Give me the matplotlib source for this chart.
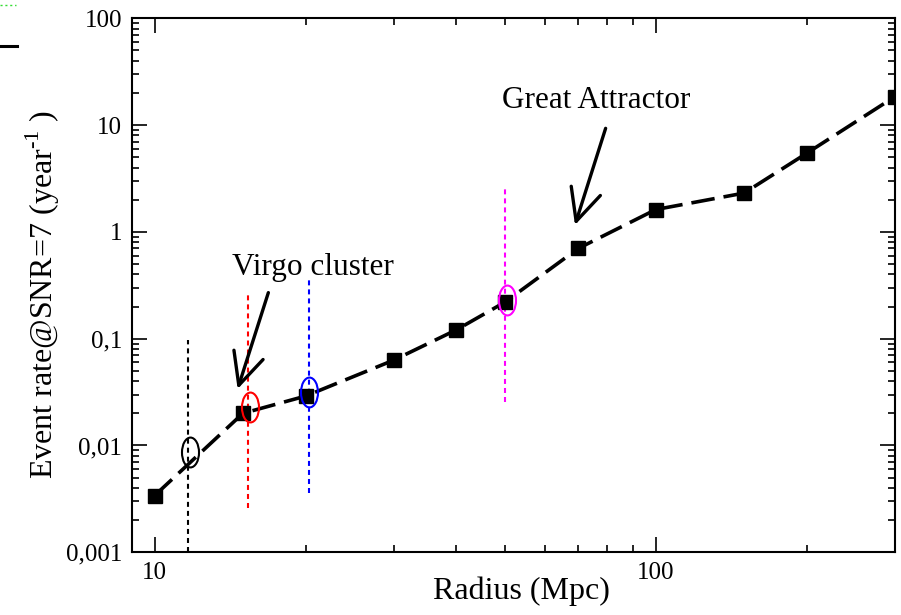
#!/usr/bin/env python3
"""Event rate vs radius, log-log, with Virgo / Great Attractor markers"""
import matplotlib
matplotlib.use("Agg")
import matplotlib.pyplot as plt
from matplotlib.path import Path
from matplotlib.lines import Line2D
import numpy as np

plt.rcParams['font.family'] = 'serif'
plt.rcParams['font.serif'] = ['Liberation Serif', 'DejaVu Serif']
plt.rcParams['mathtext.fontset'] = 'custom'
plt.rcParams['mathtext.rm'] = 'Liberation Serif'
plt.rcParams['lines.scale_dashes'] = False

# data
radius = [10, 15, 20, 30, 40, 50, 70, 100, 150, 200, 300]
rate = [0.0034, 0.020, 0.029, 0.063, 0.121, 0.22, 0.70, 1.62, 2.31, 5.45, 18.5]

# galaxy clusters: position of the open ellipse and the extent of the dashed bar
cluster_x = [11.65, 15.38, 20.3, 50.0]
cluster_ell_x = [11.74, 15.5, 20.36, 50.4]
cluster_y = [0.0087, 0.0231, 0.032, 0.23]
cluster_lo = [0.001, 0.0026, 0.0036, 0.0255]
cluster_hi = [0.097, 0.256, 0.36, 2.58]
cluster_colors = ['black', 'red', 'blue', 'magenta']

yticks = [0.001, 0.01, 0.1, 1, 10, 100]
ytick_labels = ['0,001', '0,01', '0,1', '1', '10', '100']
xticks = [10, 100]
xtick_labels = ['10', '100']

# annotations: (text, text pos, arrow tail, arrow tip)
notes = [
    ("Virgo cluster", (14.27, 0.395), (16.86, 0.27), (14.64, 0.0338)),
    ("Great Attractor", (49.25, 14.4), (79.4, 9.33), (68.97, 1.16)),
]

fig = plt.figure(figsize=(9.01, 6.15), dpi=100)
ax = fig.add_axes([0.1462, 0.1020, 0.8471, 0.8682])
ax.set_xscale('log')
ax.set_yscale('log')
ax.set_xlim(9, 300)
ax.set_ylim(0.001, 100)

# vertical dashed bars + ellipses
verts = Path.unit_circle().vertices * np.array([0.57, 1.0])
ellipse = Path(verts, Path.unit_circle().codes)
for x, xe, y, lo, hi, c in zip(cluster_x, cluster_ell_x, cluster_y,
                               cluster_lo, cluster_hi, cluster_colors):
    ax.plot([x, x], [lo, hi], color=c, lw=1.5, dashes=(3.6, 2.9), zorder=2)
    ax.plot([xe], [y], marker=ellipse, ms=21.5, mfc='none', mec=c,
            mew=1.5, ls='none', zorder=4)

ax.plot(radius, rate, color='black', lw=2.6, dashes=(17, 6.5),
        marker='s', ms=9.4, mfc='black', mec='black', zorder=3)

for txt, tpos, tail, tip in notes:
    ax.text(tpos[0], tpos[1], txt, fontsize=22.5, ha='left', va='baseline')
    ax.annotate("", xy=tip, xytext=tail,
                arrowprops=dict(arrowstyle='->,head_length=23,head_width=11',
                                mutation_scale=1, lw=2.4, color='black',
                                shrinkA=0, shrinkB=0))

ax.set_yticks(yticks)
ax.set_yticklabels(ytick_labels)
ax.set_xticks(xticks)
ax.set_xticklabels(xtick_labels)
ax.tick_params(which='both', direction='in', top=True, right=True,
               labelsize=18, width=1.2)
ax.tick_params(which='major', length=11, pad=7)
ax.tick_params(which='minor', length=5)
ax.xaxis.set_minor_formatter(matplotlib.ticker.NullFormatter())
ax.yaxis.set_minor_formatter(matplotlib.ticker.NullFormatter())
for s in ax.spines.values():
    s.set_linewidth(1.5)

ax.set_xlabel('Radius (Mpc)', fontsize=23)
ax.set_ylabel('Event rate@SNR=7 (year$^{\\mathregular{\u2010}1}$ )', fontsize=23)
ax.xaxis.set_label_coords(0.511, -0.045)
ax.yaxis.set_label_coords(-0.091, 0.483)

# leftover bits at the top-left corner of the original figure
fig.add_artist(Line2D([0, 16 / 901], [1 - 5 / 615, 1 - 5 / 615],
                      color='#33dd33', lw=1, dashes=(1.5, 2)))
fig.add_artist(Line2D([0, 17 / 901], [1 - 46 / 615, 1 - 46 / 615],
                      color='black', lw=2.2))

fig.savefig('out.png', dpi=100)
